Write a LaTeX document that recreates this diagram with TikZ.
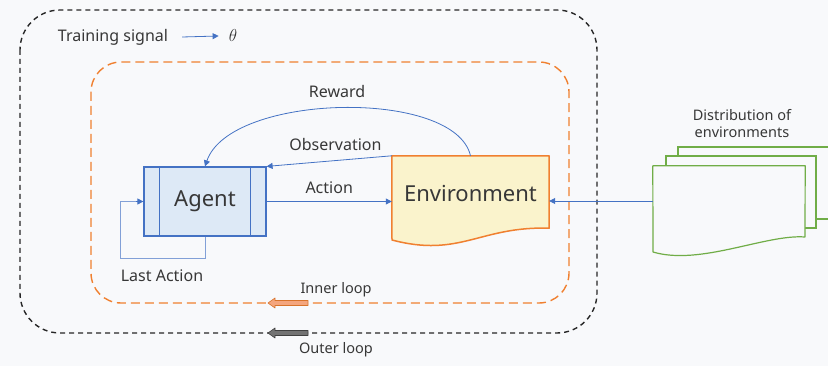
\documentclass[tikz,border=0pt]{standalone}
\usepackage{fontspec}
\setmainfont{Noto Sans}
\usetikzlibrary{arrows.meta}
\definecolor{bg}{RGB}{248,249,251}
\definecolor{ablue}{RGB}{68,114,196}
\definecolor{lblue}{RGB}{130,160,215}
\definecolor{afill}{RGB}{221,233,246}
\definecolor{eorange}{RGB}{240,128,48}
\definecolor{efill}{RGB}{250,243,204}
\definecolor{dgreen}{RGB}{112,173,71}
\definecolor{txt}{RGB}{55,55,55}
\definecolor{ifill}{RGB}{244,165,125}
\definecolor{ofill}{RGB}{115,115,115}
\begin{document}
\begin{tikzpicture}[x=1pt,y=-1pt,
  lbl/.style={font=\fontsize{16}{18}\selectfont, text=txt, inner sep=0pt},
  slbl/.style={font=\fontsize{14.5}{17}\selectfont, text=txt, inner sep=0pt, align=center},
  conn/.style={draw=ablue, line width=0.8pt, -{Triangle[length=6pt,width=6pt]}},
  loopbox/.style={line width=1.4pt, rounded corners=#1},
  invis/.style={inner sep=0pt, draw=none}]
\fill[bg] (0,0) rectangle (828,366);
\useasboundingbox (0,0) rectangle (828,366);
\begin{scope}
\clip (0,0) rectangle (828,366);
% loops
\draw[loopbox=40pt, black!85, dash pattern=on 5pt off 4pt] (20,10) rectangle (597,333);
\draw[loopbox=30pt, eorange, dash pattern=on 9pt off 5pt] (91,62) rectangle (569,303);
% training signal
\node[lbl] (ts) at (113,37) {Training signal};
\node[text=black!80, inner sep=0pt, font=\fontsize{19}{21}\selectfont] (th) at (233,36) {$\theta$};
\draw[conn] ([xshift=14pt]ts.east) -- ([xshift=-10pt]th.west);
% agent
\node[draw=ablue, fill=afill, line width=1.2pt, minimum width=122pt, minimum height=69pt,
      font=\fontsize{22}{24}\selectfont, text=txt] (agent) at (205,201.5) {Agent};
\draw[ablue, line width=1.2pt] ([xshift=16pt]agent.north west) -- ([xshift=16pt]agent.south west)
  ([xshift=-16pt]agent.north east) -- ([xshift=-16pt]agent.south east);
% environment
\node[invis, minimum width=157pt, minimum height=72pt] (env) at (470.5,192) {};
\fill[efill] (env.north west) -- (env.north east) -- (env.south east)
   .. controls (480,226) and (460,258) .. (392,240) -- cycle;
\node[font=\fontsize{22}{24}\selectfont, text=txt, inner sep=0pt] (envtxt) at (470.5,194) {Environment};
\draw[eorange, line width=1.5pt, line join=round] (env.north west) -- (env.north east) -- (env.south east)
   .. controls (480,226) and (460,258) .. (392,240) -- cycle;
% distribution documents
\draw[dgreen, line width=1.2pt, fill=bg] (678,147) rectangle (850,219);
\draw[dgreen, line width=1.2pt, fill=bg] (666,156) rectangle (816,228);
\node[invis, minimum width=152pt, minimum height=70pt] (dist) at (729,201) {};
\draw[dgreen, line width=1.2pt, fill=bg, line join=round] (dist.north west) -- (dist.north east) -- (805,237)
   .. controls (766,234) and (700,266) .. (653,252) -- cycle;
\node[slbl] (dlbl) at (742,124) {Distribution of\\environments};
% connectors
\draw[conn] (agent.east) -- node[lbl, above=7pt] {Action} (agent.east -| env.west);
\draw[conn] (env.north west) -- node[lbl, above=10pt, pos=0.45] {Observation} (agent.north east);
\draw[conn] (env.north) .. controls (455,88) and (230,93) .. (agent.north);
\node[lbl] (rw) at (337,92) {Reward};
\draw[conn] (dist.west) -- (dist.west -| env.east);
\coordinate (la) at (120,259);
\draw[lblue, line width=1pt] (agent.south) |- (la) |- ([xshift=-6pt]agent.west);
\draw[conn] ([xshift=-7pt]agent.west) -- (agent.west);
\node[lbl] (latxt) at (162,276) {Last Action};
% loop arrows
\draw[eorange!90!black, fill=ifill, line width=0.6pt, line join=round]
  (268,303) -- (275,298) -- (275,300.5) -- (308,300.5) -- (308,305.5) -- (275,305.5) -- (275,308) -- cycle;
\node[slbl] (il) at (336,290) {Inner loop};
\draw[black!75, fill=ofill, line width=0.6pt, line join=round]
  (268,333) -- (275,328) -- (275,330.5) -- (308,330.5) -- (308,335.5) -- (275,335.5) -- (275,338) -- cycle;
\node[slbl] (ol) at (336,350) {Outer loop};
\end{scope}
\end{tikzpicture}
\end{document}
